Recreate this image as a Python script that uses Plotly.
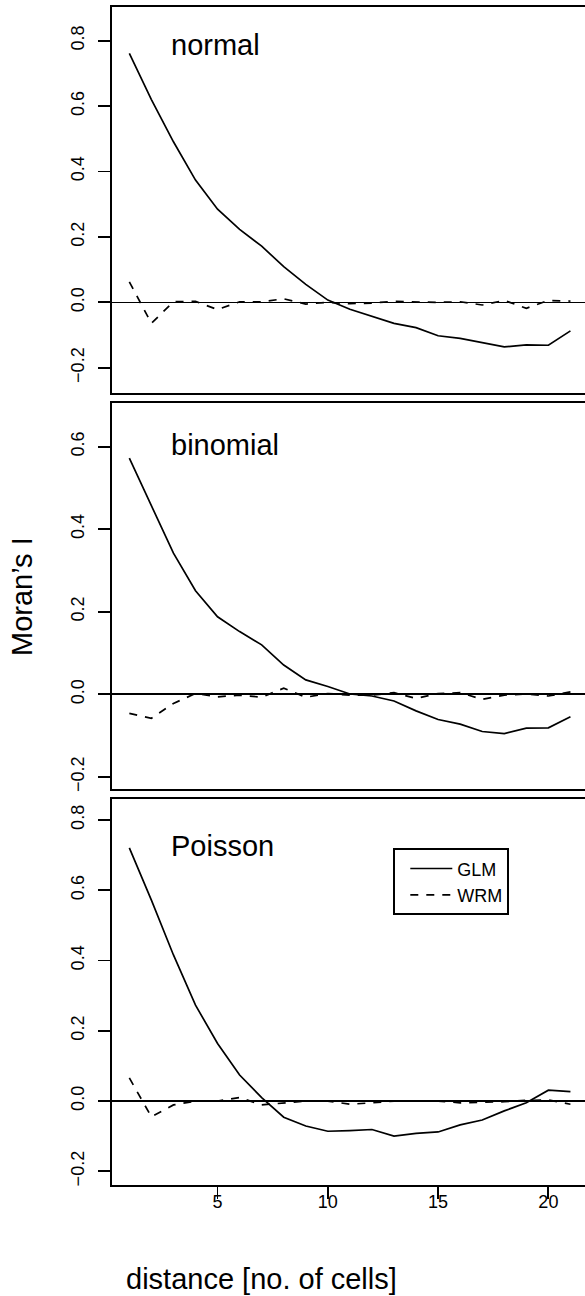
import plotly.graph_objects as go

W, H = 585, 1296

distance = list(range(1, 22))

glm_normal = [0.761, 0.620, 0.491, 0.374, 0.285, 0.223, 0.172, 0.109, 0.055, 0.007,
              -0.021, -0.042, -0.064, -0.077, -0.102, -0.110, -0.123, -0.136, -0.130, -0.131, -0.087]
wrm_normal = [0.063, -0.064, 0.002, 0.003, -0.022, 0.002, 0.002, 0.011, -0.005, 0.000,
              -0.004, -0.002, 0.003, 0.001, 0.000, 0.002, -0.008, 0.006, -0.018, 0.006, 0.004]

glm_binomial = [0.572, 0.455, 0.342, 0.251, 0.188, 0.152, 0.120, 0.071, 0.035, 0.019,
                0.001, -0.004, -0.016, -0.040, -0.061, -0.072, -0.090, -0.095, -0.082, -0.081, -0.054]
wrm_binomial = [-0.046, -0.058, -0.022, 0.002, -0.006, -0.002, -0.007, 0.015, -0.007, 0.002,
                -0.002, -0.002, 0.004, -0.010, 0.002, 0.004, -0.012, -0.002, 0.001, -0.004, 0.006]

glm_poisson = [0.721, 0.572, 0.416, 0.273, 0.164, 0.074, 0.010, -0.046, -0.071, -0.086,
               -0.084, -0.081, -0.100, -0.092, -0.088, -0.068, -0.054, -0.028, -0.005, 0.031, 0.027]
wrm_poisson = [0.066, -0.045, -0.011, 0.000, 0.000, 0.010, -0.011, -0.005, 0.000, 0.000,
               -0.009, -0.005, 0.000, 0.000, 0.000, -0.005, -0.004, -0.002, 0.002, 0.003, -0.009]

panel_names = ["normal", "binomial", "Poisson"]
series = [(glm_normal, wrm_normal), (glm_binomial, wrm_binomial), (glm_poisson, wrm_poisson)]
y_ranges = [[-0.277, 0.903], [-0.230, 0.705], [-0.239, 0.860]]
y_ticks = [[-0.2, 0.0, 0.2, 0.4, 0.6, 0.8], [-0.2, 0.0, 0.2, 0.4, 0.6], [-0.2, 0.0, 0.2, 0.4, 0.6, 0.8]]
x_ticks = [5, 10, 15, 20]
x_range = [0.2, 21.66]

# pixel geometry (top, bottom) of each panel
panel_px = [(7, 393), (403.3, 789.3), (799, 1185)]
label_top_px = [27, 427, 828]
x_left_px = 111.7

FONT = "Liberation Sans, Arial, Helvetica, sans-serif"

fig = go.Figure()
for i, ((glm, wrm), name) in enumerate(zip(series, panel_names)):
    xa = "x" if i == 0 else f"x{i+1}"
    ya = "y" if i == 0 else f"y{i+1}"
    show = (i == 2)
    fig.add_trace(go.Scatter(x=distance, y=glm, mode="lines", name="GLM",
                             line=dict(color="black", width=1.7), xaxis=xa, yaxis=ya,
                             showlegend=show, hoverinfo="skip"))
    fig.add_trace(go.Scatter(x=distance, y=wrm, mode="lines", name="WRM",
                             line=dict(color="black", width=1.7, dash="8px,8px"), xaxis=xa, yaxis=ya,
                             showlegend=show, hoverinfo="skip"))

layout = dict(
    template="none",
    width=W, height=H, margin=dict(l=0, r=0, t=0, b=0, pad=0, autoexpand=False),
    paper_bgcolor="white", plot_bgcolor="white",
    font=dict(family=FONT, color="black", size=18),
    legend=dict(x=393.3 / W, y=1 - 848.3 / H, xanchor="left", yanchor="top",
                bordercolor="black", borderwidth=2, bgcolor="white",
                font=dict(size=18, family=FONT), itemwidth=42, indentation=10,
                traceorder="normal"),
    annotations=[],
)

for i in range(3):
    top, bot = panel_px[i]
    xk = "xaxis" if i == 0 else f"xaxis{i+1}"
    yk = "yaxis" if i == 0 else f"yaxis{i+1}"
    ya = "y" if i == 0 else f"y{i+1}"
    xa = "x" if i == 0 else f"x{i+1}"
    layout[xk] = dict(domain=[x_left_px / W, 1], range=x_range, anchor=ya, automargin=False,
                      showgrid=False, zeroline=False, showline=True, linecolor="black",
                      linewidth=2, mirror=True,
                      tickvals=x_ticks if i == 2 else [],
                      ticks="outside" if i == 2 else "", ticklen=12, tickwidth=1.8,
                      tickcolor="black", showticklabels=(i == 2),
                      tickfont=dict(size=18, family=FONT), ticklabelstandoff=-13)
    layout[yk] = dict(domain=[1 - bot / H, 1 - top / H], range=y_ranges[i], anchor=xa,
                      automargin=False,
                      showgrid=False, zeroline=True, zerolinecolor="black", zerolinewidth=1.7,
                      showline=True, linecolor="black", linewidth=2, mirror=False,
                      tickvals=y_ticks[i], tickformat=".1f", ticks="outside", ticklen=12,
                      tickwidth=1.8, tickcolor="black", tickangle=-90,
                      tickfont=dict(size=18, family=FONT), ticklabelstandoff=7)
    layout["annotations"].append(dict(text=panel_names[i], xref="paper", yref="paper",
                                      x=169 / W, y=1 - label_top_px[i] / H,
                                      xanchor="left", yanchor="top", showarrow=False,
                                      font=dict(size=29, family=FONT)))

layout["annotations"].append(dict(text="Moran’s I", xref="paper", yref="paper",
                                  x=22 / W, y=1 - 597 / H, textangle=-90,
                                  xanchor="center", yanchor="middle", showarrow=False,
                                  font=dict(size=29, family=FONT)))
layout["annotations"].append(dict(text="distance [no. of cells]", xref="paper", yref="paper",
                                  x=261 / W, y=1 - 1278.6 / H,
                                  xanchor="center", yanchor="middle", showarrow=False,
                                  font=dict(size=29, family=FONT)))

fig.update_layout(**layout)
fig.write_html("out.html", config={"displayModeBar": False, "staticPlot": True},
               post_script="document.body.style.margin='0';document.body.style.padding='0';"
                           "document.body.style.overflow='hidden';")
